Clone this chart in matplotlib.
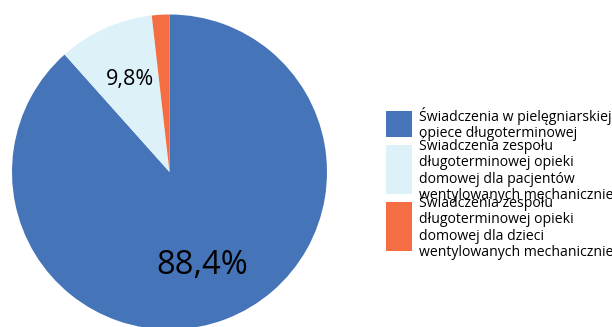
import matplotlib
matplotlib.use("Agg")
import matplotlib.pyplot as plt
from matplotlib.patches import Rectangle

plt.rcParams["font.family"] = ["Open Sans", "DejaVu Sans"]

labels = ["Świadczenia w pielęgniarskiej\nopiece długoterminowej",
          "Świadczenia zespołu\ndługoterminowej opieki\ndomowej dla pacjentów\nwentylowanych mechanicznie",
          "Świadczenia zespołu\ndługoterminowej opieki\ndomowej dla dzieci\nwentylowanych mechanicznie"]
values = [88.4, 9.8, 1.8]
colors = ["#4674B8", "#DDF1F8", "#F46D43"]
shown = ["88,4%", "9,8%", None]

W, H = 612, 327
fig = plt.figure(figsize=(W / 100, H / 100), dpi=100)

# pie axes: centre (169.5, 172) px, radius 157.5 px
cx, cy, r = 169.5, 172, 157.5
ax = fig.add_axes([(cx - r) / W, (H - cy - r) / H, 2 * r / W, 2 * r / H])
wedges, _ = ax.pie(values, colors=colors, startangle=90, counterclock=False,
                   wedgeprops=dict(linewidth=0))
ax.set_xlim(-1, 1); ax.set_ylim(-1, 1)
ax.set_aspect("equal")

# slice labels
ax.text(0.21, -0.595, shown[0], fontsize=23.5, ha="center", va="center")
ax.text(-0.25, 0.585, shown[1], fontsize=15.5, ha="center", va="center")

# legend drawn by hand (entries overlap slightly like the original)
boxes = [(111, 137), (145, 194), (202, 251)]
for (y0, y1), lab, c in zip(boxes, labels, colors):
    fig.patches.append(Rectangle((386 / W, 1 - y1 / H), 26 / W, (y1 - y0) / H,
                                 transform=fig.transFigure, color=c, linewidth=0))
    fig.text(419 / W, 1 - (y0 + y1) / 2 / H, lab, fontsize=10.1, va="center",
             ha="left", linespacing=1.12)

fig.savefig("out.png", dpi=100)
